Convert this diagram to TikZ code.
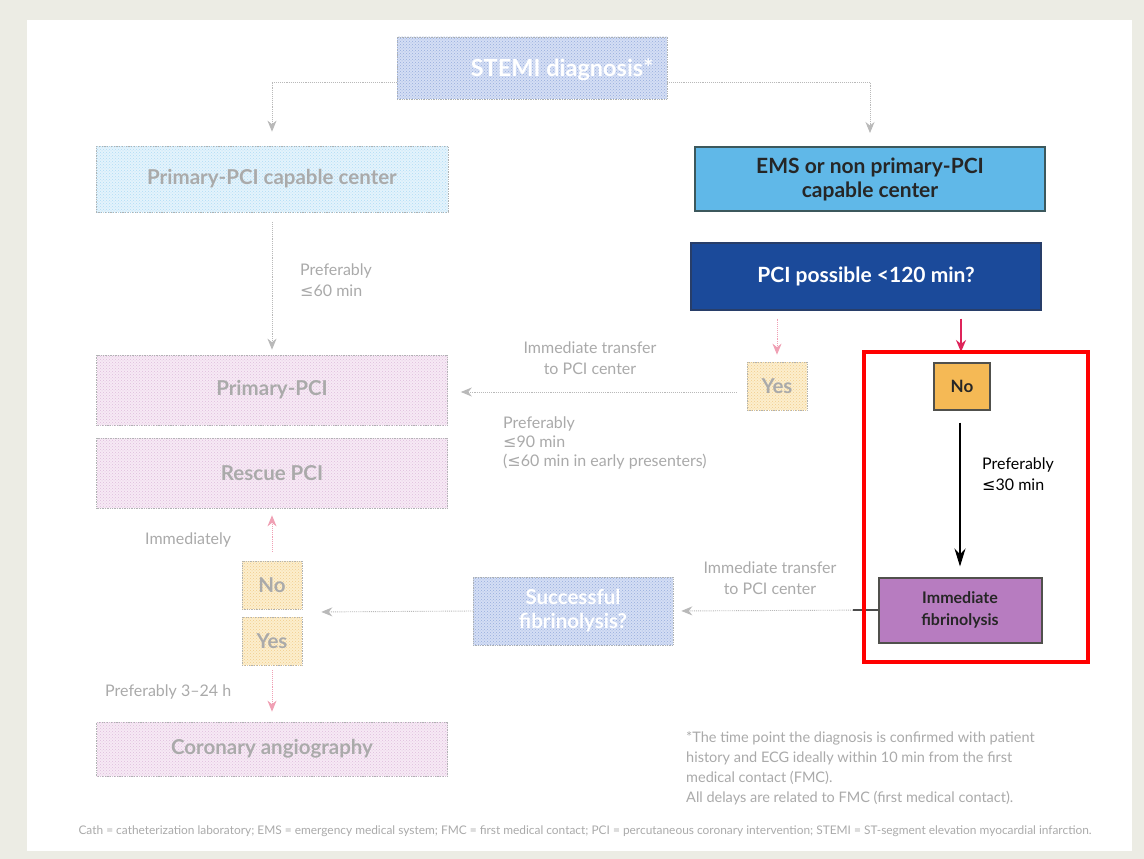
\documentclass[tikz,border=0pt]{standalone}
\usepackage{fontspec}
\setmainfont{Lato}
\newfontfamily\symf{DejaVu Sans}
\usetikzlibrary{arrows.meta,patterns}

% colours
\definecolor{framebg}{RGB}{236,236,228}
\definecolor{emsblue}{RGB}{96,184,232}
\definecolor{emsedge}{RGB}{60,88,92}
\definecolor{pcidark}{RGB}{27,74,154}
\definecolor{pciedge}{RGB}{40,62,105}
\definecolor{noorange}{RGB}{245,185,85}
\definecolor{boxedge}{RGB}{80,80,76}
\definecolor{fibpurple}{RGB}{183,124,192}
\definecolor{arrowred}{RGB}{222,36,90}
\definecolor{framered}{RGB}{255,0,0}
% muted colours for the background branches
\definecolor{gblueF}{RGB}{212,222,244}
\definecolor{gblueP}{RGB}{150,172,222}
\definecolor{gcyanF}{RGB}{228,243,252}
\definecolor{gcyanP}{RGB}{175,220,245}
\definecolor{gpinkF}{RGB}{247,233,245}
\definecolor{gpinkP}{RGB}{222,190,220}
\definecolor{gorangeF}{RGB}{252,238,205}
\definecolor{gorangeP}{RGB}{242,205,140}
\definecolor{ghostedge}{RGB}{175,178,178}
\definecolor{ghosttext}{RGB}{170,170,170}
\definecolor{ghostline}{RGB}{185,185,185}
\definecolor{ghostred}{RGB}{240,160,180}

\newcommand\bxfont{\fontsize{21}{24}\selectfont\bfseries}
\newcommand\gbxfont{\fontsize{20.5}{24}\selectfont\bfseries}
\newcommand\lblfont{\fontsize{16}{21}\selectfont}
\newcommand\notefont{\fontsize{14.5}{20}\selectfont}

\tikzset{
  ghost/.style={draw=ghostedge, densely dotted, line width=0.7pt, inner sep=0pt,
    align=center, font=\gbxfont, text=ghosttext},
  gblue/.style={ghost, fill=gblueF, postaction={pattern=crosshatch dots, pattern color=gblueP}, text=white},
  gcyan/.style={ghost, fill=gcyanF, postaction={pattern=crosshatch dots, pattern color=gcyanP}},
  gpink/.style={ghost, fill=gpinkF, postaction={pattern=crosshatch dots, pattern color=gpinkP}},
  gorange/.style={ghost, fill=gorangeF, postaction={pattern=crosshatch dots, pattern color=gorangeP}},
  solid box/.style={draw=#1, line width=2pt, inner sep=0pt, align=center, font=\bxfont},
  glabel/.style={text=ghosttext, font=\lblfont, inner sep=0pt},
  gline/.style={draw=ghostline, densely dotted, line width=0.9pt, -{Stealth[length=11pt,width=9pt]}},
  gred/.style={draw=ghostred, densely dotted, line width=0.9pt, -{Stealth[length=11pt,width=9pt]}},
  redarrow/.style={draw=arrowred, line width=1.6pt, -{Stealth[length=12pt,width=10pt]}},
  blackarrow/.style={draw=black, line width=1.6pt, -{Stealth[length=18pt,width=11pt]}},
}

\begin{document}
\begin{tikzpicture}[x=1pt,y=-1pt]
\useasboundingbox (0,0) rectangle (1144,859);
\fill[framebg] (0,0) rectangle (1144,859);
\fill[white] (27,20) rectangle (1132,851);

% ---- background branches (muted) ----
\node[gblue, minimum width=270, minimum height=62] (stemi) at (532,68) {};
\node[text=white, font=\fontsize{23.5}{26}\selectfont\bfseries, inner sep=0pt] (stemitxt) at (562,70) {STEMI diagnosis*};
\node[gcyan, minimum width=352, minimum height=66] (pcicap) at (272,179) {Primary-PCI capable center};
\node[gpink, minimum width=351, minimum height=70] (ppci) at (272,390) {Primary-PCI};
\node[gpink, minimum width=351, minimum height=70] (rescue) at (272,473) {Rescue PCI};
\node[gorange, minimum width=60, minimum height=48] (nofad) at (272,585) {No};
\node[gorange, minimum width=60, minimum height=48] (yesfad) at (272,641) {Yes};
\node[gblue, minimum width=200, minimum height=68] (succ) at (573,611) {Successful\\fibrinolysis?};
\node[gpink, minimum width=351, minimum height=54] (coro) at (272,749) {Coronary angiography};
\node[gorange, minimum width=60, minimum height=48] (yesr) at (777,386) {Yes};

\draw[gline, shorten >=14pt] ([yshift=-14]stemi.west) -| (pcicap.north);
\draw[gline, shorten >=14pt] ([yshift=-14]stemi.east) -| (870,147);
\draw[gline, shorten <=10pt, shorten >=5pt] (pcicap.south) -- (ppci.north);
\draw[gline, shorten <=10pt, shorten >=13pt] ([yshift=-6]yesr.west) -- (ppci.east |- 0,392);
\draw[gline, shorten >=8pt] (succ.west) -- ([xshift=11]nofad.south east |- 0,612);
\draw[gred, shorten <=9pt, shorten >=7pt] (nofad.north) -- (rescue.south);
\draw[gred, shorten <=5pt, shorten >=10pt] (yesfad.south) -- (coro.north);

\node[glabel, anchor=west, align=left] (lbl60) at (300,280) {Preferably\\{\symf ≤}60 min};
\node[glabel, align=center] (lblt1) at (590,358) {Immediate transfer\\to PCI center};
\node[glabel, anchor=north west, align=left, font=\fontsize{16}{19}\selectfont] (lbl90) at (503,417)
  {Preferably\\{\symf ≤}90 min\\({\symf ≤}60 min in early presenters)};
\node[glabel, anchor=west] (lblimm) at (145,540) {Immediately};
\node[glabel, anchor=west] (lbl324) at (105,692) {Preferably 3–24 h};
\node[glabel, align=center] (lblt2) at (770,578) {Immediate transfer\\to PCI center};

\node[text=ghosttext, font=\notefont, anchor=north west, align=left, inner sep=0pt] (note) at (686,731)
  {*The time point the diagnosis is confirmed with patient\\
   history and ECG ideally within 10 min from the first\\
   medical contact (FMC).\\
   All delays are related to FMC (first medical contact).};
\node[text=ghosttext, font=\fontsize{11.9}{13}\selectfont, inner sep=0pt] (abbr) at (585,831)
  {Cath = catheterization laboratory; EMS = emergency medical system; FMC = first medical contact; PCI = percutaneous coronary intervention; STEMI = ST-segment elevation myocardial infarction.};

% ---- highlighted branch ----
\node[solid box=emsedge, fill=emsblue, text=black!85, minimum width=350, minimum height=64]
  (ems) at (870,179) {EMS or non primary-PCI\\capable center};
\node[solid box=pciedge, fill=pcidark, text=white, minimum width=350, minimum height=67]
  (pcipos) at (866,276) {PCI possible <120 min?};
\node[solid box=boxedge, fill=noorange, text=black!85, minimum width=56, minimum height=47,
  font=\fontsize{17}{20}\selectfont\bfseries] (nor) at (962,386) {No};
\node[solid box=boxedge, fill=fibpurple, text=black!85, minimum width=163, minimum height=65,
  font=\fontsize{16}{22}\selectfont\bfseries] (fib) at (960,610) {Immediate\\fibrinolysis};

\draw[gred, shorten <=8pt, shorten >=7pt] (pcipos.south -| yesr) -- (yesr.north);
\draw[gline, shorten >=8pt] (fib.west) -- (succ.east);
\draw[draw=black!70, line width=1.6pt] (fib.west) -- ++(-25,0);

\coordinate (frametop) at (961,352);
\draw[redarrow, shorten <=8pt] (pcipos.south -| frametop) -- (frametop);
\draw[blackarrow, shorten <=12pt, shorten >=10pt] (nor.south -| fib) -- (fib.north);
\node[font=\lblfont, anchor=west, align=left, inner sep=0pt] (lbl30) at (982,474)
  {Preferably\\{\symf ≤}30 min};

\draw[framered, line width=4pt] (864,352) rectangle (1088,662);
\end{tikzpicture}
\end{document}
